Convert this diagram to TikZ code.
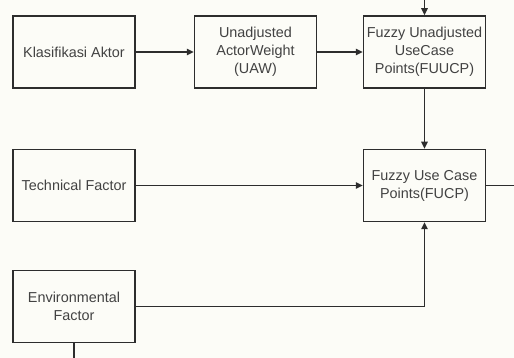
\documentclass[tikz,border=0pt]{standalone}
\usepackage{fontspec}
\setmainfont{Liberation Sans}
\usetikzlibrary{arrows.meta}
\definecolor{paper}{RGB}{252,252,247}
\definecolor{ink}{RGB}{45,45,45}
\begin{document}
\begin{tikzpicture}[x=1pt,y=-1pt,
  box/.style={draw=ink,line width=1.5pt,minimum width=122pt,minimum height=72pt,
    inner sep=1pt,align=center,font=\fontsize{14.4}{18}\selectfont,text=ink!90},
  link/.style={draw=ink,line width=1.5pt},
  arr/.style={link,-{Triangle[length=7pt,width=6.5pt]}}]
  % canvas
  \fill[paper] (0,0) rectangle (514,358);
  \useasboundingbox (0,0) rectangle (514,358);

  % boxes
  \node[box] (ka)   at (74,52)   {Klasifikasi Aktor};
  \node[box] (uaw)  at (255.5,52) {Unadjusted\\ActorWeight\\(UAW)};
  \node[box] (fuucp) at (424.5,52) {Fuzzy Unadjusted\\UseCase\\Points(FUUCP)};
  \node[box] (tf)   at (74,185.5) {Technical Factor};
  \node[box] (fucp) at (424.5,185.5) {Fuzzy Use Case\\Points(FUCP)};
  \node[box] (ef)   at (74,306.5) {Environmental\\Factor};

  % free ends at the canvas edges
  \coordinate (topin) at (424.5,0);
  \coordinate (rightout) at (514,185.5);
  \coordinate (bottomout) at (74,358);

  % connectors
  \draw[arr] (ka) -- (uaw);
  \draw[arr] (uaw) -- (fuucp);
  \draw[arr] (topin) -- (fuucp);
  \draw[arr] (fuucp) -- (fucp);
  \draw[arr] (tf) -- (fucp);
  \draw[arr] (ef.east) -| (fucp.south);
  \draw[link] (fucp) -- (rightout);
  \draw[link] (ef) -- (bottomout);
\end{tikzpicture}
\end{document}
